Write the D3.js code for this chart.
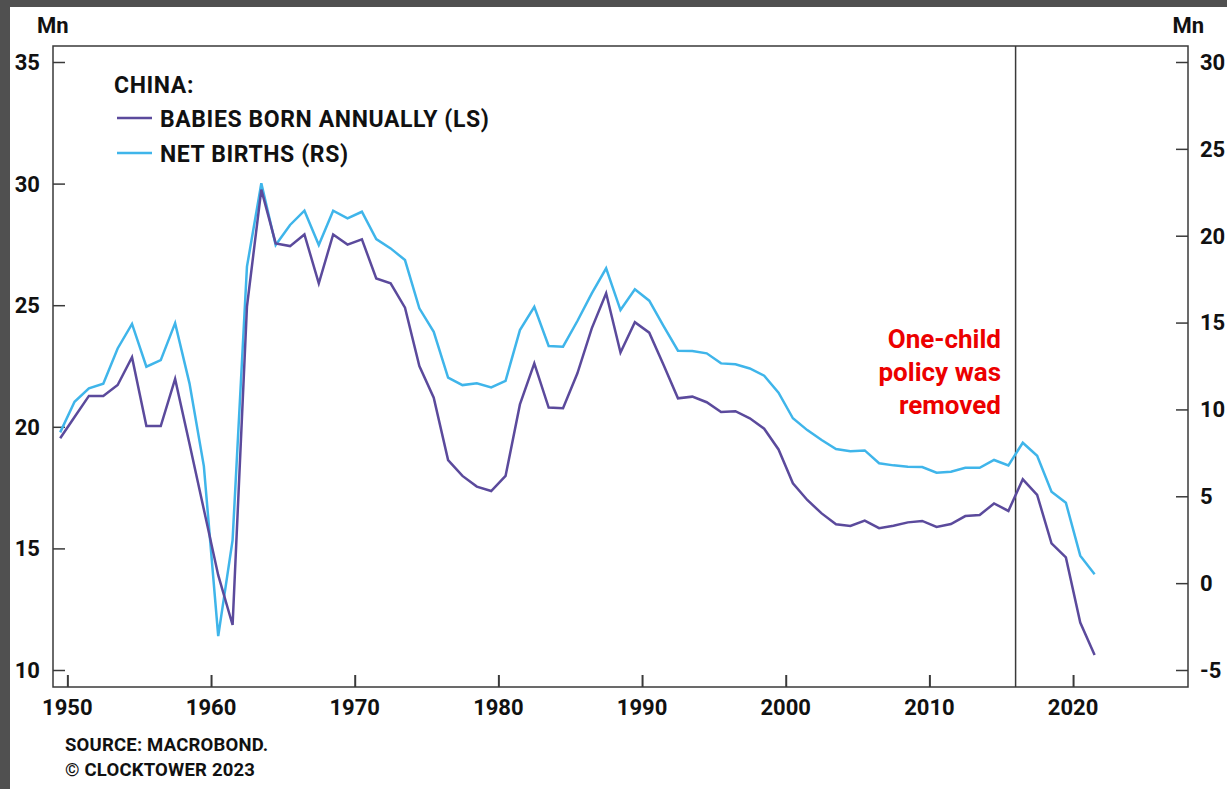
<!DOCTYPE html>
<html>
<head>
<meta charset="utf-8">
<script src="https://cdn.jsdelivr.net/npm/d3@7"></script>
<style>
  html, body { margin: 0; padding: 0; background: #505050; }
  svg { display: block; }
  text { font-family: Roboto, "Liberation Sans", sans-serif; font-weight: 700; fill: #111; }
</style>
</head>
<body>
<svg id="chart" width="1227" height="789"></svg>
<script>
// China: annual births (left scale, Mn) and net births (right scale, Mn)
const years = [
  1949, 1950, 1951, 1952, 1953, 1954, 1955, 1956, 1957, 1958,
  1959, 1960, 1961, 1962, 1963, 1964, 1965, 1966, 1967, 1968,
  1969, 1970, 1971, 1972, 1973, 1974, 1975, 1976, 1977, 1978,
  1979, 1980, 1981, 1982, 1983, 1984, 1985, 1986, 1987, 1988,
  1989, 1990, 1991, 1992, 1993, 1994, 1995, 1996, 1997, 1998,
  1999, 2000, 2001, 2002, 2003, 2004, 2005, 2006, 2007, 2008,
  2009, 2010, 2011, 2012, 2013, 2014, 2015, 2016, 2017, 2018,
  2019, 2020, 2021
];

const babiesBorn = [
  19.53, 20.40, 21.27, 21.27, 21.72, 22.86, 20.03, 20.03, 21.97, 19.30,
  16.60, 13.90, 11.85, 24.94, 29.75, 27.54, 27.43, 27.91, 25.90, 27.91,
  27.49, 27.71, 26.10, 25.90, 24.90, 22.50, 21.20, 18.63, 17.98, 17.54,
  17.36, 17.98, 20.92, 22.61, 20.79, 20.76, 22.20, 24.05, 25.49, 23.05,
  24.30, 23.87, 22.54, 21.17, 21.24, 21.01, 20.61, 20.64, 20.35, 19.92,
  19.07, 17.68, 16.99, 16.44, 15.99, 15.92, 16.14, 15.83, 15.93, 16.07,
  16.13, 15.88, 16.00, 16.33, 16.37, 16.85, 16.54, 17.84, 17.20, 15.21,
  14.63, 11.95, 10.62
];

const netBirths = [
  8.68, 10.44, 11.21, 11.48, 13.51, 14.92, 12.46, 12.84, 14.97, 11.50,
  6.74, -3.05, 2.48, 18.22, 23.02, 19.46, 20.62, 21.44, 19.46, 21.44,
  21.00, 21.38, 19.81, 19.27, 18.60, 15.82, 14.47, 11.83, 11.40, 11.50,
  11.27, 11.65, 14.57, 15.91, 13.65, 13.61, 15.09, 16.68, 18.12, 15.72,
  16.91, 16.26, 14.80, 13.38, 13.36, 13.23, 12.65, 12.60, 12.36, 11.94,
  10.96, 9.49, 8.81, 8.24, 7.72, 7.59, 7.64, 6.90, 6.78, 6.70,
  6.68, 6.36, 6.41, 6.64, 6.64, 7.09, 6.78, 8.08, 7.33, 5.26,
  4.63, 1.58, 0.51
];

const xTicks = [1950, 1960, 1970, 1980, 1990, 2000, 2010, 2020];
const leftTicks = [10, 15, 20, 25, 30, 35];
const rightTicks = [-5, 0, 5, 10, 15, 20, 25, 30];
const policyYear = 2016;

const legendTitle = "CHINA:";
const seriesNames = ["BABIES BORN ANNUALLY (LS)", "NET BIRTHS (RS)"];
const annotationLines = ["One-child", "policy was", "removed"];
const sourceLines = ["SOURCE: MACROBOND.", "\u00A9 CLOCKTOWER 2023"];

const colors = { babies: "#5b4a9c", net: "#3fb5ea", axis: "#3a3a3a", red: "#ec0000" };

const svg = d3.select("#chart");

// white card on the dark page
svg.append("rect").attr("x", 10).attr("y", 7).attr("width", 1217).attr("height", 782).attr("fill", "#fff");

const frame = { left: 53, right: 1188, top: 46, bottom: 687 };

const x = d3.scaleLinear().domain([1949, 2028]).range([frame.left, frame.right]);
const yL = d3.scaleLinear().domain([10, 35]).range([670, 62]);
const yR = d3.scaleLinear().domain([-5, 30]).range([670, 62]);

// plot frame
svg.append("rect")
  .attr("x", frame.left).attr("y", frame.top)
  .attr("width", frame.right - frame.left).attr("height", frame.bottom - frame.top)
  .attr("fill", "none").attr("stroke", colors.axis).attr("stroke-width", 1.5);

// left axis: ticks inside the frame
const gL = svg.append("g").attr("transform", `translate(${frame.left},0)`)
  .call(d3.axisRight(yL).tickValues(leftTicks).tickSize(12).tickFormat(""));
gL.select(".domain").remove();
gL.selectAll("line").attr("stroke", colors.axis).attr("stroke-width", 1.5);
svg.append("g").selectAll("text").data(leftTicks).join("text")
  .attr("x", 40).attr("y", d => yL(d)).attr("dy", "0.36em")
  .attr("text-anchor", "end").attr("font-size", 22).text(d => d);

// right axis: ticks inside the frame
const gR = svg.append("g").attr("transform", `translate(${frame.right},0)`)
  .call(d3.axisLeft(yR).tickValues(rightTicks).tickSize(12).tickFormat(""));
gR.select(".domain").remove();
gR.selectAll("line").attr("stroke", colors.axis).attr("stroke-width", 1.5);
svg.append("g").selectAll("text").data(rightTicks).join("text")
  .attr("x", 1200).attr("y", d => yR(d)).attr("dy", "0.36em")
  .attr("text-anchor", "start").attr("font-size", 22).text(d => d < 0 ? "-" + Math.abs(d) : d);

// bottom axis: ticks pointing up
const gX = svg.append("g").attr("transform", `translate(0,${frame.bottom})`)
  .call(d3.axisTop(x).tickValues(xTicks).tickSize(12).tickFormat(""));
gX.select(".domain").remove();
gX.selectAll("line").attr("stroke", colors.axis).attr("stroke-width", 2);
svg.append("g").selectAll("text").data(xTicks).join("text")
  .attr("x", d => x(d)).attr("y", 715)
  .attr("text-anchor", "middle").attr("font-size", 22).text(d => d);

// unit labels
svg.append("text").attr("x", 37).attr("y", 33).attr("font-size", 22).text("Mn");
svg.append("text").attr("x", 1204).attr("y", 33).attr("text-anchor", "end").attr("font-size", 22).text("Mn");

// policy change marker
svg.append("line")
  .attr("x1", x(policyYear)).attr("x2", x(policyYear))
  .attr("y1", frame.top).attr("y2", frame.bottom)
  .attr("stroke", colors.axis).attr("stroke-width", 1.5);

// series lines, plotted at mid-year
const lineL = d3.line().x((d, i) => x(years[i] + 0.5)).y(d => yL(d));
const lineR = d3.line().x((d, i) => x(years[i] + 0.5)).y(d => yR(d));

svg.append("path").datum(netBirths).attr("d", lineR)
  .attr("fill", "none").attr("stroke", colors.net).attr("stroke-width", 2.5)
  .attr("stroke-linejoin", "miter");
svg.append("path").datum(babiesBorn).attr("d", lineL)
  .attr("fill", "none").attr("stroke", colors.babies).attr("stroke-width", 2.5)
  .attr("stroke-linejoin", "miter");

// legend
const legend = svg.append("g");
legend.append("text").attr("x", 114).attr("y", 93).attr("font-size", 23)
  .attr("letter-spacing", 0.6).text(legendTitle);
const legendColors = [colors.babies, colors.net];
seriesNames.forEach((name, i) => {
  const yy = 118 + i * 35;
  legend.append("line").attr("x1", 117).attr("x2", 152).attr("y1", yy).attr("y2", yy)
    .attr("stroke", legendColors[i]).attr("stroke-width", 2.5);
  legend.append("text").attr("x", 160).attr("y", yy + 8.5).attr("font-size", 23)
    .attr("letter-spacing", 0.6).text(name);
});

// annotation
svg.append("g").selectAll("text").data(annotationLines).join("text")
  .attr("x", 1001).attr("y", (d, i) => 348 + i * 33)
  .attr("text-anchor", "end").attr("font-size", 26)
  .style("fill", colors.red).text(d => d);

// source
svg.append("g").selectAll("text").data(sourceLines).join("text")
  .attr("x", 65).attr("y", (d, i) => 751 + i * 25)
  .attr("font-size", 18.5).attr("letter-spacing", 0.2).text(d => d);
</script>
</body>
</html>
